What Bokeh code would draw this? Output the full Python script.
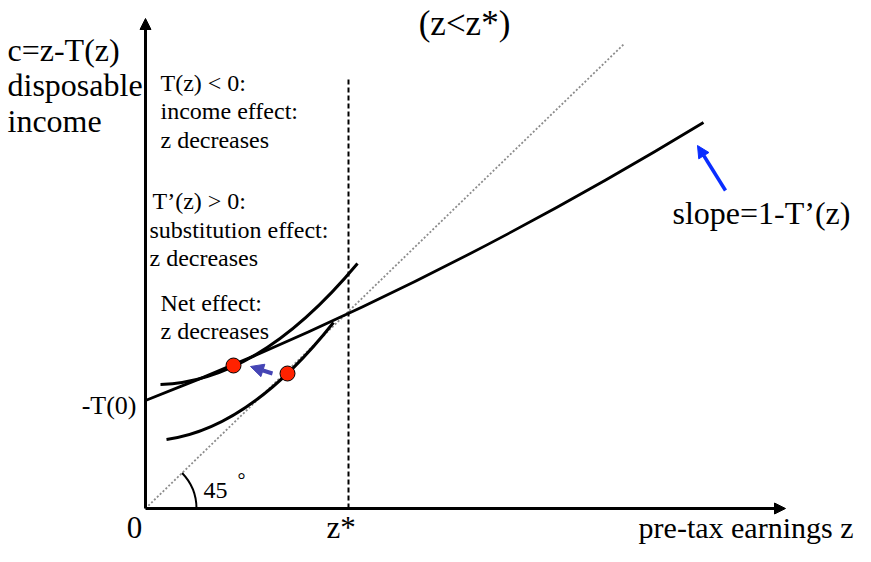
import math
from bokeh.plotting import figure
from bokeh.models import Range1d, Arrow, NormalHead, ColumnDataSource
from bokeh.core.properties import value
from bokeh.embed import file_html
from bokeh.resources import INLINE

# ---- diagram values (z = pre-tax earnings, c = disposable income) ----
axis_z_max = 640
axis_c_max = 490
z_star = 203
z_star_top = 432
diag_z = [0, 478]          # 45 degree line
diag_c = [0, 464]
budget_z = [0, 279, 558]   # start, control, end of budget curve c = z - T(z)
budget_c = [108, 216.5, 386]
ic_high_z = [15, 113.5, 212]   # indifference curve after response
ic_high_c = [124, 127, 245]
ic_low_z = [21, 104.5, 188]    # indifference curve before response
ic_low_c = [69, 80.5, 186]
dots_z = [88, 142]
dots_c = [143, 135]
move_arrow_z = [127, 105]
move_arrow_c = [135, 142]
slope_arrow_z = [580, 552]
slope_arrow_c = [318, 363]
arc_radius = 51

FONT = value("Liberation Serif")

p = figure(width=855, height=546, x_range=Range1d(-145, 710), y_range=Range1d(-38, 508),
           x_axis_location=None, y_axis_location=None, min_border=0,
           toolbar_location=None, output_backend="svg")
p.grid.visible = False
p.outline_line_color = None

# axes with arrows
p.add_layout(Arrow(end=NormalHead(size=11, fill_color="black", line_color="black"),
                   x_start=0, y_start=0, x_end=0, y_end=axis_c_max, line_width=3))
p.add_layout(Arrow(end=NormalHead(size=11, fill_color="black", line_color="black"),
                   x_start=0, y_start=0, x_end=axis_z_max, y_end=0, line_width=3))

# z* dashed line
p.segment(x0=[z_star], y0=[0], x1=[z_star], y1=[z_star_top], line_color="black",
          line_width=2, line_dash="5 3")

# 45 degree dotted line
p.line(diag_z, diag_c, line_color="#8c8c8c", line_width=1.8, line_dash="2 2")

# 45 degree arc
p.arc(x=[0], y=[0], radius=arc_radius, start_angle=0,
      end_angle=math.atan2(diag_c[1], diag_z[1]), line_color="black", line_width=2)

# budget curve and indifference curves
for zs, cs, w in [(budget_z, budget_c, 2.8), (ic_high_z, ic_high_c, 3), (ic_low_z, ic_low_c, 3)]:
    p.quadratic(x0=[zs[0]], y0=[cs[0]], cx=[zs[1]], cy=[cs[1]], x1=[zs[2]], y1=[cs[2]],
                line_color="black", line_width=w)

# arrows
p.add_layout(Arrow(end=NormalHead(size=13, fill_color="#4545b5", line_color="#4545b5"),
                   x_start=move_arrow_z[0], y_start=move_arrow_c[0],
                   x_end=move_arrow_z[1], y_end=move_arrow_c[1],
                   line_color="#4545b5", line_width=4))
p.add_layout(Arrow(end=NormalHead(size=12, fill_color="#0a2dff", line_color="#0a2dff"),
                   x_start=slope_arrow_z[0], y_start=slope_arrow_c[0],
                   x_end=slope_arrow_z[1], y_end=slope_arrow_c[1],
                   line_color="#0a2dff", line_width=3.5))

# optimum points
p.scatter(dots_z, dots_c, size=15, fill_color="#ff2200", line_color="black", line_width=1)

# ---- texts ----
def add_text(xs, ys, texts, size, align="left", baseline="alphabetic"):
    src = ColumnDataSource(dict(x=xs, y=ys, t=texts))
    p.text(x="x", y="y", text="t", source=src, text_font=FONT, text_font_size=size,
           text_align=align, text_baseline=baseline, text_color="black")

add_text([319], [485], ["(z<z*)"], "35px", align="center", baseline="middle")
add_text([-138, -138, -138, 527],
         [459, 424, 388, 296],
         ["c=z-T(z)", "disposable", "income", "slope=1-T\u2019(z)"],
         "32px")
add_text([181], [-19], ["z*"], "31px")
add_text([708], [-19], ["pre-tax earnings z"], "30px", align="right")
add_text([-11], [-19], ["0"], "31px", align="center")
add_text([-9], [103], ["-T(0)"], "26px", align="right")
add_text([15, 15, 15, 7, 4, 4, 15, 15],
         [426, 398, 369, 308, 279, 251, 206, 178],
         ["T(z) < 0:", "income effect:", "z decreases",
          "T\u2019(z) > 0:", "substitution effect:", "z decreases",
          "Net effect:", "z decreases"],
         "24px")
add_text([58], [18], ["45"], "24px")
add_text([92], [29], ["\u00b0"], "20px")

open("out.html", "w").write(file_html(p, INLINE))
